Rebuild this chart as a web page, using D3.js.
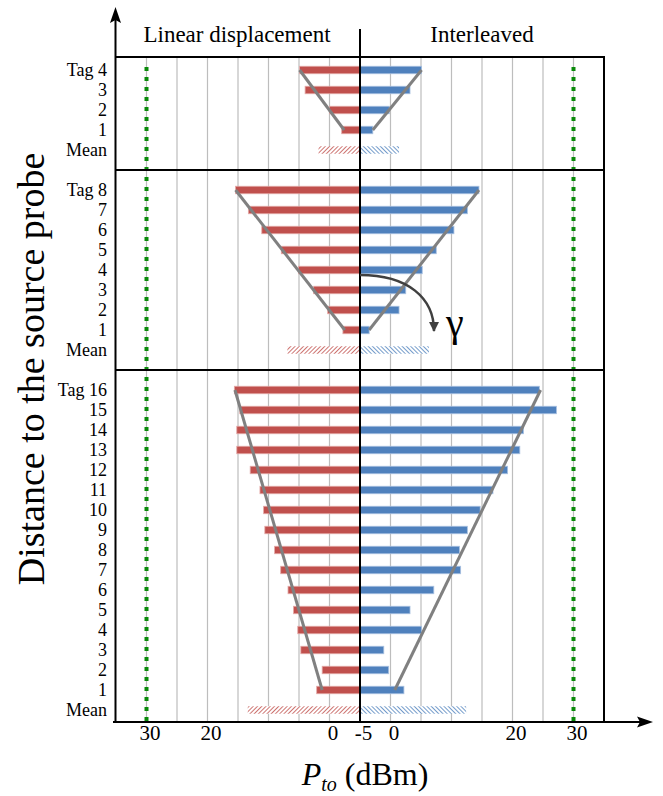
<!DOCTYPE html>
<html>
<head>
<meta charset="utf-8">
<script src="https://cdn.jsdelivr.net/npm/d3@7"></script>
<style>
  body { margin: 0; background: #fff; }
  svg text { font-family: "Liberation Serif", "Times New Roman", serif; fill: #000; }
</style>
</head>
<body>
<div id="chart"></div>
<script>
// Data (values in dBm), rows listed from the top tag down to Tag 1
const panelSizes = [4, 8, 16];
const linear1 = [4.9, 4.0, 0.0, -2.0];
const inter1 = [5.1, 3.2, -0.2, -2.9];
const linear2 = [15.4, 13.3, 11.1, 7.9, 5.1, 2.6, 0.3, -2.2];
const inter2 = [14.5, 12.6, 10.4, 7.5, 5.2, 2.5, 1.4, -3.5];
const linear3 = [15.6, 14.7, 15.2, 15.2, 13.0, 11.4, 10.8, 10.6, 9.0, 8.0, 6.8, 5.9, 5.2, 4.7, 1.2, 2.1];
const inter3 = [24.4, 27.2, 21.8, 21.2, 19.2, 16.8, 14.7, 12.6, 11.3, 11.5, 7.1, 3.2, 5.1, -1.1, -0.3, 2.2];
const linearMean = [1.8, 6.9, 13.4];
const interMean = [1.4, 6.3, 12.4];
// trend lines: [value at top tag, value at tag 1]
const linearFit = [[4.9, -2.4], [15.4, -2.5], [15.5, 1.2]];
const interFit = [[5.1, -2.9], [14.5, -3.5], [24.6, 0.7]];
const gridValues = [0, 5, 10, 15, 20, 25, 30];
const leftTicks = [30, 20, 0];
const rightTicks = [-5, 0, 20, 30];
const limitValue = 30;

const w = 663, h = 796;
const red = '#c0504d', blue = '#4f81bd';
const serif = '"Liberation Serif", "Times New Roman", serif';
const linear = [linear1, linear2, linear3];
const inter = [inter1, inter2, inter3];

const svg = d3.select('#chart')
  .append('svg')
  .attr('width', w)
  .attr('height', h)
  .attr('font-family', serif);

// Build the row keys: tags, a mean row, and a blank row between panels
const rows = [];
panelSizes.forEach((n, p) => {
  for (let t = n; t >= 1; t--) rows.push({ key: p + '-' + t, label: t === n ? 'Tag ' + t : String(t) });
  rows.push({ key: p + '-mean', label: 'Mean' });
  if (p < panelSizes.length - 1) rows.push({ key: p + '-gap', label: '' });
});
const labelOf = new Map(rows.map(r => [r.key, r.label]));

// Scales
const y = d3.scalePoint().domain(rows.map(r => r.key)).range([70, 710]);
const xL = d3.scaleLinear().domain([-5, 35]).range([360, 116]);
const xR = d3.scaleLinear().domain([-5, 35]).range([360, 604]);
const yTop = 57, yBottom = 722, barH = 7.5;

// Hatch patterns for the mean bars
const defs = svg.append('defs');
[['hatchRed', red, 45], ['hatchBlue', blue, -45]].forEach(([id, c, a]) => {
  const pat = defs.append('pattern')
    .attr('id', id)
    .attr('patternUnits', 'userSpaceOnUse')
    .attr('width', 3).attr('height', 3)
    .attr('patternTransform', 'rotate(' + a + ')');
  pat.append('rect').attr('width', 3).attr('height', 3).attr('fill', '#fff');
  pat.append('line').attr('x1', 0).attr('y1', 0).attr('x2', 0).attr('y2', 3)
    .attr('stroke', c).attr('stroke-width', 1.6);
});
defs.append('marker')
  .attr('id', 'head')
  .attr('viewBox', '0 0 10 10')
  .attr('refX', 9).attr('refY', 5)
  .attr('markerWidth', 4).attr('markerHeight', 4)
  .attr('orient', 'auto')
  .append('path').attr('d', 'M0,0L10,5L0,10z').attr('fill', '#404040');

// Grid lines
gridValues.forEach(v => {
  [xL(v), xR(v)].forEach(gx => {
    svg.append('line')
      .attr('x1', gx).attr('x2', gx).attr('y1', yTop).attr('y2', yBottom)
      .attr('stroke', '#bdbdbd').attr('stroke-width', 1.2);
  });
});

// 30 dBm limit lines
[xL(limitValue), xR(limitValue)].forEach(gx => {
  svg.append('line')
    .attr('x1', gx).attr('x2', gx).attr('y1', 67).attr('y2', yBottom)
    .attr('stroke', '#0a8a0a').attr('stroke-width', 4)
    .attr('stroke-dasharray', '4,6');
});

// Tag bars
panelSizes.forEach((n, p) => {
  const keys = d3.range(n, 0, -1).map(t => p + '-' + t);
  svg.append('g').selectAll('rect')
    .data(linear[p])
    .enter()
    .append('rect')
    .attr('x', d => xL(d))
    .attr('y', (d, i) => y(keys[i]) - barH / 2)
    .attr('width', d => xL(-5) - xL(d))
    .attr('height', barH)
    .attr('fill', red)
    .attr('stroke', '#e3a9a7').attr('stroke-width', 0.8);
  svg.append('g').selectAll('rect')
    .data(inter[p])
    .enter()
    .append('rect')
    .attr('x', xR(-5))
    .attr('y', (d, i) => y(keys[i]) - barH / 2)
    .attr('width', d => xR(d) - xR(-5))
    .attr('height', barH)
    .attr('fill', blue)
    .attr('stroke', '#a9c1e0').attr('stroke-width', 0.8);

  // Mean bars (hatched)
  const my = y(p + '-mean') - barH / 2;
  svg.append('rect')
    .attr('x', xL(linearMean[p])).attr('y', my)
    .attr('width', xL(-5) - xL(linearMean[p])).attr('height', barH)
    .attr('fill', 'url(#hatchRed)');
  svg.append('rect')
    .attr('x', xR(-5)).attr('y', my)
    .attr('width', xR(interMean[p]) - xR(-5)).attr('height', barH)
    .attr('fill', 'url(#hatchBlue)');

  // Trend lines
  const y1 = y(keys[0]), y2 = y(keys[n - 1]);
  svg.append('line')
    .attr('x1', xL(linearFit[p][0])).attr('y1', y1)
    .attr('x2', xL(linearFit[p][1])).attr('y2', y2)
    .attr('stroke', '#808080').attr('stroke-width', 3);
  svg.append('line')
    .attr('x1', xR(interFit[p][0])).attr('y1', y1)
    .attr('x2', xR(interFit[p][1])).attr('y2', y2)
    .attr('stroke', '#808080').attr('stroke-width', 3);
});

// Panel frame
const frame = svg.append('g').attr('stroke', '#000').attr('stroke-width', 2);
[yTop, y('0-gap'), y('1-gap')].forEach(ly => {
  frame.append('line').attr('x1', 115).attr('x2', 605).attr('y1', ly).attr('y2', ly);
});
frame.append('line').attr('x1', 604).attr('x2', 604).attr('y1', yTop - 1).attr('y2', yBottom);
frame.append('line').attr('x1', 360).attr('x2', 360).attr('y1', 29).attr('y2', yBottom);

// Axis arrows
svg.append('line').attr('x1', 115.5).attr('x2', 115.5).attr('y1', yBottom + 1).attr('y2', 20)
  .attr('stroke', '#000').attr('stroke-width', 2);
svg.append('path').attr('d', 'M115.5,7L121,23L115.5,20L110,23Z').attr('fill', '#000');
svg.append('line').attr('x1', 113).attr('x2', 640).attr('y1', yBottom).attr('y2', yBottom)
  .attr('stroke', '#000').attr('stroke-width', 2);
svg.append('path').attr('d', 'M653,722L637,716.5L640,722L637,727.5Z').attr('fill', '#000');

// Row labels
const yAxis = d3.axisLeft(y).tickSize(0).tickPadding(0).tickFormat(k => labelOf.get(k));
const gy = svg.append('g')
  .attr('transform', 'translate(107,0)')
  .call(yAxis);
gy.select('.domain').remove();
gy.attr('font-family', serif);
gy.selectAll('text').style('font-size', '18px');

// X tick labels
const xAxisL = d3.axisBottom(xL).tickValues(leftTicks).tickSize(0).tickPadding(0).tickFormat(d3.format('d'));
const xAxisR = d3.axisBottom(xR).tickValues(rightTicks).tickSize(0).tickPadding(0).tickFormat(d => d < 0 ? '-' + Math.abs(d) : d);
[xAxisL, xAxisR].forEach(ax => {
  const g = svg.append('g').attr('transform', 'translate(3,' + (yBottom + 3) + ')').call(ax);
  g.select('.domain').remove();
  g.attr('font-family', serif);
  g.selectAll('text').style('font-size', '21px');
});

// Column headers
svg.append('text').attr('x', 237).attr('y', 42).attr('text-anchor', 'middle')
  .style('font-size', '23px').text('Linear displacement');
svg.append('text').attr('x', 482).attr('y', 42).attr('text-anchor', 'middle')
  .style('font-size', '23px').text('Interleaved');

// Gamma annotation
svg.append('path')
  .attr('d', 'M360,275C408,275 434,298 434,331')
  .attr('fill', 'none').attr('stroke', '#404040').attr('stroke-width', 2.5)
  .attr('marker-end', 'url(#head)');
svg.append('text').attr('x', 446).attr('y', 336).style('font-size', '40px').text('γ');

// Axis titles
const xt = svg.append('text').attr('x', 365).attr('y', 785).attr('text-anchor', 'middle')
  .style('font-size', '32px');
xt.append('tspan').style('font-style', 'italic').text('P');
xt.append('tspan').style('font-style', 'italic').style('font-size', '20px').attr('dy', 6).text('to');
xt.append('tspan').attr('dy', -6).text(' (dBm)');

svg.append('text')
  .attr('transform', 'translate(44,369) rotate(-90)')
  .attr('text-anchor', 'middle')
  .style('font-size', '38px')
  .text('Distance to the source probe');
</script>
</body>
</html>
